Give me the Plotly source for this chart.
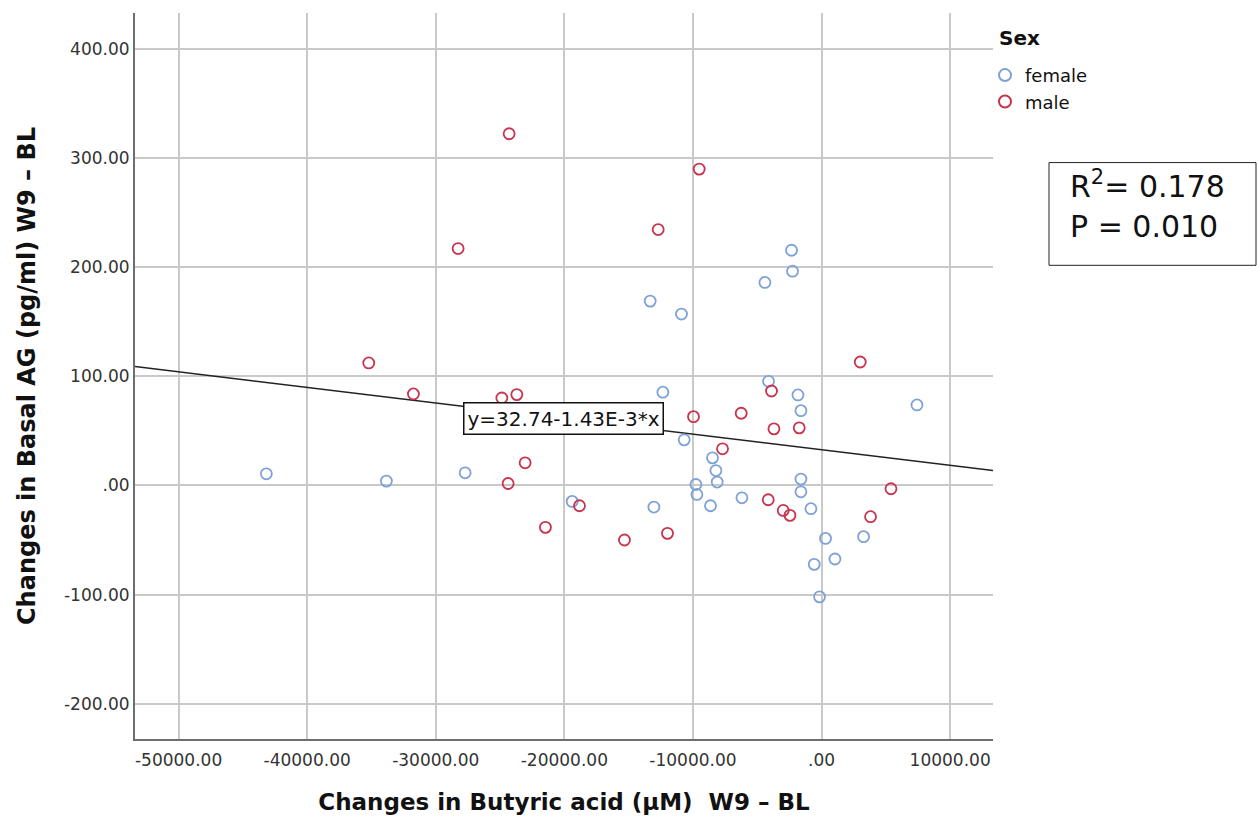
import numpy as np
import plotly.graph_objects as go

# Change in butyric acid (µM) vs change in basal AG (pg/ml), W9 - BL
female_x = [-2334, -2256, -4403, -13325, -10891, -43174, -33839, -27717, -4123, -1836,
            -1603, -12338, 7421, -10681, -8479, -8215, -8114, -9771, -9693, -8635,
            -1603, -1603, -6192, -825, 3267, 311, 1042, -568, -156, -19393, -13038]
female_y = [215.6, 196.4, 186.1, 169.0, 157.1, 10.7, 4.0, 11.6, 95.5, 83.0,
            68.6, 85.5, 73.8, 41.8, 25.3, 13.7, 3.1, 0.9, -8.2, -18.6,
            5.9, -5.8, -11.3, -21.3, -46.9, -48.5, -67.4, -72.3, -102.1, -14.6, -19.8]

male_x = [-24294, -28262, -35210, -9514, -12703, 3010, -31738, -24862, -23696, -23050,
          -24372, -21470, -3890, -9957, -6247, -3703, -1735, -7701, -4146, -2979,
          -2458, 5399, 3812, -18825, -15325, -11980]
male_y = [322.4, 217.2, 112.3, 290.0, 234.6, 113.2, 83.9, 80.2, 83.3, 20.8,
          1.8, -38.4, 86.6, 63.1, 66.2, 51.9, 52.8, 33.6, -13.1, -22.9,
          -27.4, -3.0, -28.6, -18.6, -50.0, -43.9]

# Fitted line: y = 32.74 - 1.43E-3 * x
intercept = 32.74
slope = -1.43e-3
r_squared = "0.178"
p_value = "0.010"

x_range = [-53388, 13333]
y_range = [-232.4, 433.1]

x_ticks = [-50000, -40000, -30000, -20000, -10000, 0, 10000]
x_ticktext = ["-50000.00", "-40000.00", "-30000.00", "-20000.00", "-10000.00", ".00", "10000.00"]
y_ticks = [-200, -100, 0, 100, 200, 300, 400]
y_ticktext = ["-200.00", "-100.00", ".00", "100.00", "200.00", "300.00", "400.00"]

FEMALE = "#7ea2d8"
MALE = "#c8334d"
FONT = "DejaVu Sans"

# plot area in pixels: left 135, right 993, top 13, bottom 741
PL, PW, PB, PH = 135, 858, 741, 728


def px(xp):
    return (xp - PL) / PW


def py(yp):
    return (PB - yp) / PH


fig = go.Figure()

line_x = np.array(x_range, dtype=float)
fig.add_trace(go.Scatter(
    x=line_x, y=intercept + slope * line_x, mode="lines",
    line=dict(color="#222222", width=1.5), showlegend=False, hoverinfo="skip"))

fig.add_trace(go.Scatter(
    x=female_x, y=female_y, mode="markers", name="female",
    marker=dict(symbol="circle-open", size=11, color=FEMALE, line=dict(width=1.8))))
fig.add_trace(go.Scatter(
    x=male_x, y=male_y, mode="markers", name="male",
    marker=dict(symbol="circle-open", size=11, color=MALE, line=dict(width=1.8))))

axis_common = dict(
    showgrid=True, gridcolor="#c9c9c9", gridwidth=2,
    zeroline=False, showline=True, linecolor="#6e6e6e", linewidth=2,
    ticks="", tickfont=dict(family=FONT, size=17, color="#333333"),
)

fig.update_xaxes(
    range=x_range, tickvals=x_ticks, ticktext=x_ticktext, ticklabelstandoff=5,
    title=dict(text="Changes in Butyric acid (µM)  W9 – BL",
               font=dict(family=FONT, size=23, color="#111111", weight="bold"),
               standoff=24),
    **axis_common)
fig.update_yaxes(
    range=y_range, tickvals=y_ticks, ticktext=y_ticktext,
    title=dict(text="Changes in Basal AG (pg/ml) W9 – BL",
               font=dict(family=FONT, size=24, color="#111111", weight="bold"),
               standoff=22),
    **axis_common)

fig.add_annotation(
    x=-20094, y=61, xref="x", yref="y", showarrow=False,
    text="y=32.74-1.43E-3*x", font=dict(family=FONT, size=20, color="#111111"),
    bgcolor="white", bordercolor="#111111", borderwidth=1.5, borderpad=3)

# Legend heading
fig.add_annotation(
    x=px(1042), y=py(38), xref="paper", yref="paper", yanchor="middle",
    showarrow=False, text="<b>Sex</b>", font=dict(family=FONT, size=20, color="#111111"))

# Fit statistics box
fig.add_shape(type="rect", xref="paper", yref="paper",
              x0=px(1049), x1=px(1256), y0=py(266), y1=py(163),
              line=dict(color="#222222", width=1), fillcolor="white")
fig.add_annotation(
    x=px(1068), y=py(185), xref="paper", yref="paper",
    xanchor="left", yanchor="middle", showarrow=False, text=f"R<sup>2</sup>= {r_squared}",
    font=dict(family=FONT, size=30, color="#111111"))
fig.add_annotation(
    x=px(1068), y=py(227), xref="paper", yref="paper",
    xanchor="left", yanchor="middle", showarrow=False, text=f"P = {p_value}",
    font=dict(family=FONT, size=30, color="#111111"))

fig.update_layout(
    width=1257, height=823,
    margin=dict(l=PL, r=1257 - PL - PW, t=PB - PH, b=823 - PB),
    paper_bgcolor="white", plot_bgcolor="white",
    legend=dict(x=px(985), y=py(57), xanchor="left", yanchor="top",
                font=dict(family=FONT, size=18, color="#111111"),
                itemsizing="constant", tracegroupgap=0, bgcolor="rgba(0,0,0,0)"),
)

fig.write_html("out.html")
